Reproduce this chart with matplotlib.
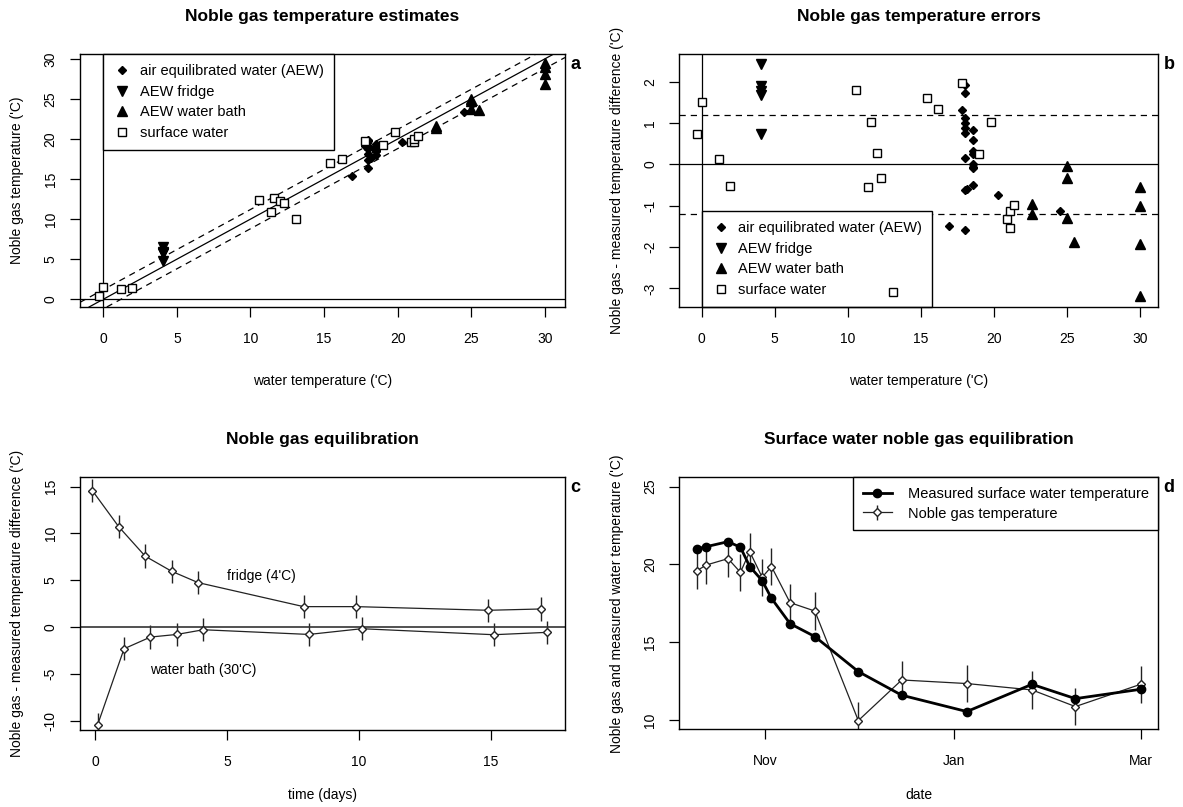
import matplotlib
matplotlib.use("Agg")
import matplotlib.pyplot as plt
import matplotlib.dates as mdates
import numpy as np

plt.rcParams['font.family'] = ['Liberation Sans', 'DejaVu Sans']
plt.rcParams['font.size'] = 10
plt.rcParams['axes.unicode_minus'] = False

# ---- data: panels a and b (water temperature, NGT - measured difference) ----
aew_temp = [17.8, 18.0, 18.0, 18.0, 18.0, 18.0, 18.0, 18.0, 18.0, 18.2,
            18.55, 18.55, 18.55, 18.55, 18.55, 18.55, 18.55, 18.55,
            16.9, 18.0, 20.3, 24.5]
aew_diff = [1.32, 1.93, 1.72, 1.12, 1.0, 0.87, 0.75, 0.16, -0.63, -0.60,
            0.82, 0.59, 0.33, 0.25, 0.02, -0.06, -0.10, -0.49,
            -1.48, -1.59, -0.74, -1.14]

fridge_temp = [4.05, 4.05, 4.05, 4.05, 4.05]
fridge_diff = [2.43, 1.90, 1.78, 1.67, 0.74]

bath_temp = [22.6, 22.6, 25.0, 25.0, 25.0, 25.5, 30.0, 30.0, 30.0, 30.0]
bath_diff = [-0.97, -1.21, -0.04, -0.32, -1.29, -1.88, -0.54, -1.00, -1.92, -3.19]

surf_temp = [-0.32, 0.0, 1.19, 1.96, 10.6, 11.4, 11.6, 12.0, 12.3, 13.1,
             15.4, 16.2, 17.8, 19.0, 19.8, 20.9, 21.1, 21.1, 21.4]
surf_diff = [0.73, 1.50, 0.13, -0.52, 1.80, -0.54, 1.03, 0.28, -0.32, -3.08,
             1.61, 1.35, 1.97, 0.24, 1.03, -1.32, -1.54, -1.12, -0.99]

tolerance = 1.2

# ---- data: panel c ----
days = [0, 1, 2, 3, 4, 8, 10, 15, 17]
fridge_eq = [14.57, 10.71, 7.57, 5.96, 4.75, 2.18, 2.18, 1.79, 1.93]
bath_eq = [-10.43, -2.32, -1.07, -0.79, -0.29, -0.79, -0.18, -0.82, -0.57]
eq_err = 1.25

# ---- data: panel d ----
sample_dates = ["2007-10-10", "2007-10-13", "2007-10-20", "2007-10-24", "2007-10-27",
                "2007-10-31", "2007-11-03", "2007-11-09", "2007-11-17", "2007-12-01",
                "2007-12-15", "2008-01-05", "2008-01-26", "2008-02-09", "2008-03-01"]
measured_temp = [20.99, 21.14, 21.46, 21.10, 19.86, 18.96, 17.82, 16.19, 15.36, 13.11,
                 11.59, 10.54, 12.29, 11.37, 11.97]
noble_temp = [19.60, 19.96, 20.37, 19.49, 20.82, 19.17, 19.86, 17.54, 17.00, 9.96,
              12.57, 12.34, 11.93, 10.86, 12.29]
noble_err = 1.2

deg = "'C"

fig = plt.figure(figsize=(11.83, 8.07), dpi=100)
axa = fig.add_axes([0.0676, 0.6196, 0.41, 0.3135])
axb = fig.add_axes([0.5742, 0.6196, 0.4049, 0.3135])
axc = fig.add_axes([0.0676, 0.0954, 0.41, 0.3132])
axd = fig.add_axes([0.5742, 0.0963, 0.4049, 0.3123])


def r_style(ax, title, xlabel, ylabel, letter, xpad):
    for s in ax.spines.values():
        s.set_linewidth(1.0)
        s.set_color('black')
    ax.tick_params(direction='out', length=7, width=0.9, labelsize=10, pad=11)
    ax.tick_params(axis='y', labelrotation=90, pad=9)
    for lab in ax.get_yticklabels():
        lab.set_va('center')
    ax.set_title(title, fontsize=12.5, fontweight='bold', pad=24)
    ax.set_xlabel(xlabel, labelpad=xpad)
    ax.set_ylabel(ylabel, labelpad=14)
    ax.text(1.022, 0.96, letter, transform=ax.transAxes, fontsize=13,
            fontweight='bold', ha='center', va='center')


def scatter_sets(ax, diff_mode):
    sets = [(aew_temp, aew_diff, 'D', 4.2, 'black', 'air equilibrated water (AEW)'),
            (fridge_temp, fridge_diff, 'v', 7.5, 'black', 'AEW fridge'),
            (bath_temp, bath_diff, '^', 7.5, 'black', 'AEW water bath'),
            (surf_temp, surf_diff, 's', 5.6, 'white', 'surface water')]
    for t, d, m, ms, fc, lab in sets:
        t = np.array(t)
        d = np.array(d)
        y = d if diff_mode else t + d
        ax.plot(t, y, linestyle='none', marker=m, markersize=ms, markerfacecolor=fc,
                markeredgecolor='black', markeredgewidth=1.0, label=lab, zorder=3)


def r_legend(ax, **kw):
    leg = ax.legend(fancybox=False, edgecolor='black', framealpha=1, fontsize=10.5,
                    borderaxespad=0, **kw)
    leg.get_frame().set_linewidth(1.0)
    return leg


# panel a
scatter_sets(axa, False)
axa.axline((0, 0), slope=1, color='black', lw=0.9)
axa.axline((0, tolerance), slope=1, color='black', lw=0.9, ls=(0, (5, 4)))
axa.axline((0, -tolerance), slope=1, color='black', lw=0.9, ls=(0, (5, 4)))
axa.axhline(0, color='black', lw=0.9)
axa.axvline(0, color='black', lw=0.9)
axa.set_xlim(-1.58, 31.36)
axa.set_ylim(-0.96, 30.6)
axa.set_xticks(range(0, 31, 5))
axa.set_yticks(range(0, 31, 5))
r_legend(axa, loc='upper left', bbox_to_anchor=(0, 30.6), bbox_transform=axa.transData,
         handletextpad=0.6, labelspacing=0.45, borderpad=0.7, handlelength=1.2)
r_style(axa, 'Noble gas temperature estimates', 'water temperature (' + deg + ')',
        'Noble gas temperature (' + deg + ')', 'a', 20)

# panel b
scatter_sets(axb, True)
axb.axhline(0, color='black', lw=0.9)
axb.axvline(0, color='black', lw=0.9)
axb.axhline(tolerance, color='black', lw=0.9, ls=(0, (5, 4)))
axb.axhline(-tolerance, color='black', lw=0.9, ls=(0, (5, 4)))
axb.set_xlim(-1.53, 31.26)
axb.set_ylim(-3.45, 2.67)
axb.set_xticks(range(0, 31, 5))
axb.set_yticks(range(-3, 3))
leg = r_legend(axb, loc='lower left', bbox_to_anchor=(0, -3.45), bbox_transform=axb.transData,
               handletextpad=0.6, labelspacing=0.45, borderpad=0.7, handlelength=1.2)
leg.set_zorder(2)
r_style(axb, 'Noble gas temperature errors', 'water temperature (' + deg + ')',
        'Noble gas - measured temperature difference (' + deg + ')', 'b', 20)

# panel c
d = np.array(days, dtype=float)
for xs, ys in [(d - 0.1, fridge_eq), (d + 0.1, bath_eq)]:
    axc.errorbar(xs, ys, yerr=eq_err, color='#222222', lw=0.9, elinewidth=1.0,
                 marker='D', markersize=4.2, markerfacecolor='white',
                 markeredgecolor='#222222', capsize=0)
axc.axhline(0, color='#333333', lw=1.2)
axc.text(6.3, 5.4, 'fridge (4' + deg + ')', ha='center', va='center', fontsize=10)
axc.text(4.1, -4.6, 'water bath (30' + deg + ')', ha='center', va='center', fontsize=10)
axc.set_xlim(-0.57, 17.8)
axc.set_ylim(-11, 16)
axc.set_xticks([0, 5, 10, 15])
axc.set_yticks(range(-10, 16, 5))
r_style(axc, 'Noble gas equilibration', 'time (days)',
        'Noble gas - measured temperature difference (' + deg + ')', 'c', 14)

# panel d
dates = np.array(sample_dates, dtype='datetime64[D]').astype('O')
axd.plot(dates, measured_temp, color='black', lw=2.0, marker='o', markersize=6,
         label='Measured surface water temperature', zorder=3)
axd.errorbar(dates, noble_temp, yerr=noble_err, color='#222222', lw=0.9, elinewidth=1.0,
             marker='D', markersize=4.2, markerfacecolor='white',
             markeredgecolor='#222222', capsize=0, label='Noble gas temperature')
axd.margins(x=0.04)
axd.set_ylim(9.4, 25.6)
axd.set_yticks([10, 15, 20, 25])
axd.xaxis.set_major_locator(mdates.MonthLocator(bymonth=[1, 3, 11]))
axd.xaxis.set_major_formatter(mdates.DateFormatter('%b'))
h, l = axd.get_legend_handles_labels()
r_legend(axd, handles=h, labels=l, loc='upper right', handlelength=2.0, handletextpad=1.1,
         labelspacing=0.4, borderpad=0.65)
r_style(axd, 'Surface water noble gas equilibration', 'date',
        'Noble gas and measured water temperature (' + deg + ')', 'd', 14)

fig.savefig('out.png', dpi=100)
